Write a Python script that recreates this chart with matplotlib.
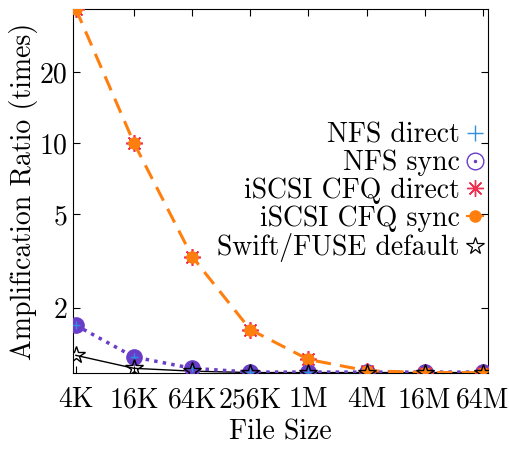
import matplotlib
matplotlib.use('Agg')
import matplotlib.pyplot as plt
from matplotlib.lines import Line2D
from matplotlib.legend_handler import HandlerTuple

plt.rcParams['font.family'] = 'cmr10'
plt.rcParams['axes.formatter.use_mathtext'] = True
plt.rcParams['font.size'] = 20

sizes = ['4K', '16K', '64K', '256K', '1M', '4M', '16M', '64M']
nfs_direct = [1.69, 1.24, 1.11, 1.07, 1.07, 1.07, 1.07, 1.07]
nfs_sync = [1.69, 1.24, 1.11, 1.07, 1.07, 1.07, 1.07, 1.07]
iscsi_direct = [37, 10, 3.3, 1.62, 1.21, 1.085, 1.065, 1.065]
iscsi_sync = [37, 10, 3.3, 1.62, 1.21, 1.085, 1.065, 1.065]
swift_default = [1.26, 1.11, 1.08, 1.065, 1.065, 1.065, 1.065, 1.065]

labels = ['NFS direct', 'NFS sync', 'iSCSI CFQ direct', 'iSCSI CFQ sync',
          'Swift/FUSE default']

c_blue = '#2f8fdf'
c_purple = '#6a3dc8'
c_red = '#f03050'
c_orange = '#ff7f0e'

x = list(range(len(sizes)))

fig = plt.figure(figsize=(5.1, 4.5), dpi=100)
ax = fig.add_axes([0.143, 0.171, 0.814, 0.809])

ax.plot(x, swift_default, color='black', lw=1.0, zorder=2)
ax.plot(x, nfs_sync, color=c_purple, ls=(0, (1, 1.5)), lw=2.5,
        marker='o', ms=11, mfc=c_purple, mec=c_purple, zorder=3)
ax.plot(x, nfs_direct, color=c_blue, ls='none', marker='+', ms=6, mew=1,
        zorder=4)
ax.plot(x, iscsi_direct, color=c_red, ls='none', marker=(8, 2, 0), ms=12,
        mew=1.2, zorder=5)
ax.plot(x, iscsi_sync, color=c_orange, ls=(0, (5, 3)), lw=2.2,
        marker='o', ms=8, zorder=6)
ax.plot(x, swift_default, color='black', ls='none', marker='*', ms=13,
        mfc='none', mew=1.0, zorder=7)

ax.set_yscale('log')
ax.set_ylim(1.06, 37)
ax.set_xlim(-0.05, 7.09)
ax.set_yticks([2, 5, 10, 20])
ax.set_yticklabels(['2', '5', '10', '20'])
ax.minorticks_off()
ax.set_xticks(x)
ax.set_xticklabels(sizes)
ax.tick_params(direction='in', top=True, right=True, length=5, width=0.8,
               labelsize=20)
ax.tick_params(axis='x', pad=10)
ax.tick_params(axis='y', pad=4)
ax.set_xlabel('File Size', fontsize=20, labelpad=4)
ax.set_ylabel('Amplification Ratio (times)', fontsize=20, labelpad=1)

handles = [
    Line2D([], [], color=c_blue, ls='none', marker='+', ms=11, mew=1),
    (Line2D([], [], color=c_purple, ls='none', marker='o', ms=12,
            mfc='none', mew=1.0),
     Line2D([], [], color=c_purple, ls='none', marker='o', ms=1.5)),
    Line2D([], [], color=c_red, ls='none', marker=(8, 2, 0), ms=12, mew=1),
    Line2D([], [], color=c_orange, ls='-', lw=1.5, marker='o', ms=8),
    Line2D([], [], color='black', ls='none', marker='*', ms=13,
           mfc='none', mew=0.9),
]
ax.legend(handles, labels, loc='upper right', bbox_to_anchor=(1.015, 0.72),
          frameon=False, markerfirst=False, handlelength=0.6,
          handletextpad=0.25, labelspacing=0.05, fontsize=20,
          borderaxespad=0.0,
          handler_map={tuple: HandlerTuple(ndivide=1, pad=0)})

fig.savefig('out.png', dpi=100)
